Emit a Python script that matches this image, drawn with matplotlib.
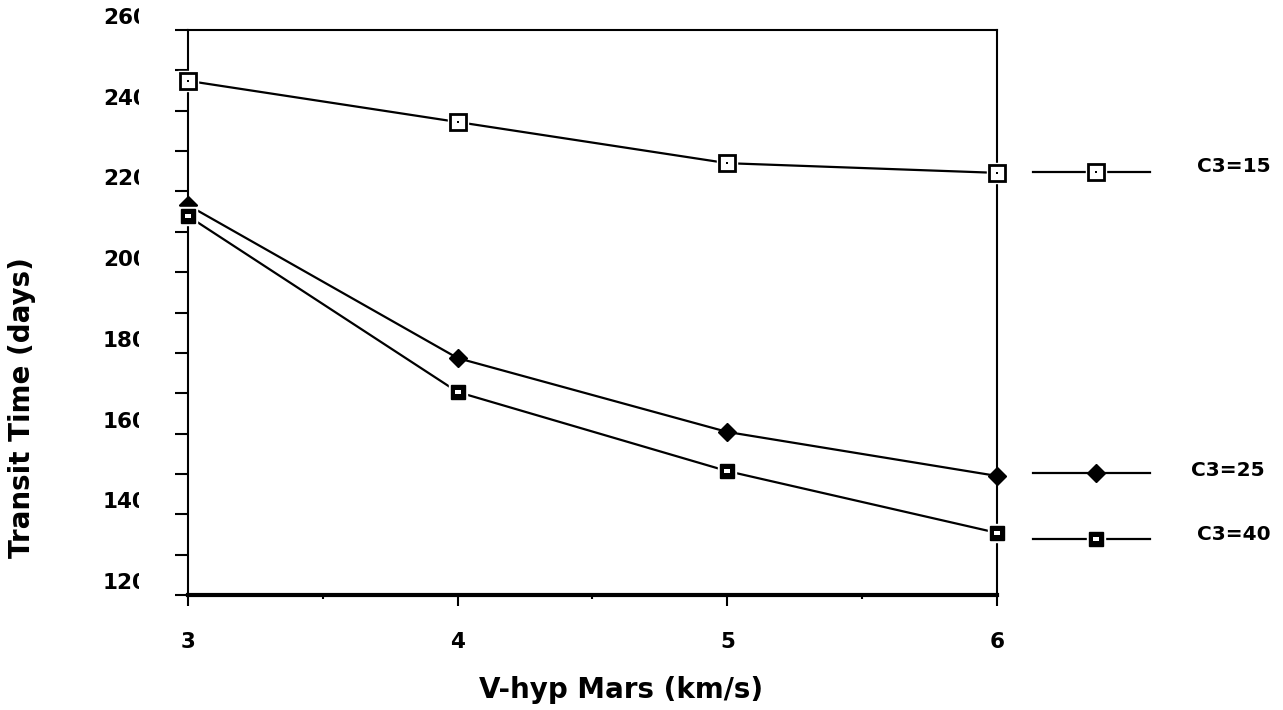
import numpy as np
from matplotlib import pyplot as plt
from matplotlib import transforms

# data
v_hyp = [3, 4, 5, 6]
c3_15 = [247.4, 237.2, 227.0, 224.6]
c3_25 = [216.6, 178.7, 160.4, 149.5]
c3_40 = [213.9, 170.3, 150.7, 135.4]
series_labels = ['C3=15', 'C3=25', 'C3=40']
y_tick_values = [120, 140, 160, 180, 200, 220, 240, 260]
x_tick_values = [3, 4, 5, 6]

FONT = 'DejaVu Sans'
W, H = 1283, 710

fig = plt.figure(figsize=(W / 100, H / 100), dpi=100)
ax = fig.add_axes([188 / W, 115 / H, 809 / W, 565 / H])

ax.set_xlim(3, 6)
ax.set_ylim(120, 260)

for sp in ax.spines.values():
    sp.set_linewidth(1.5)
    sp.set_zorder(3)
ax.spines['bottom'].set_linewidth(3)

# ticks
ax.set_xticks(x_tick_values)
ax.set_xticks([3.5, 4.5, 5.5], minor=True)
ax.set_yticks(np.arange(120, 261, 10))
ax.tick_params(axis='x', which='major', direction='out', length=8, width=1.5,
               pad=19, labelsize=15.5)
ax.tick_params(axis='x', which='minor', direction='out', length=3, width=1.5)
ax.tick_params(axis='y', direction='out', length=9.4, width=1.5, labelleft=False)
for lab in ax.get_xticklabels():
    lab.set_fontfamily(FONT)
    lab.set_fontweight('bold')

# y tick labels, shifted up and cut on the right like the original
ytrans = ax.get_yaxis_transform() + transforms.ScaledTranslation(0, 12 / 100, fig.dpi_scale_trans)
clip = transforms.Bbox.from_extents(0, 0, 139, H)
for v in y_tick_values:
    t = fig.text(-85 / 809, v, str(v), transform=ytrans, ha='left', va='center',
                 fontsize=15.5, fontweight='bold', family=FONT)
    t.set_clip_box(clip)
    t.set_clip_on(True)


def halo(x, y, ms, marker='s', transform=None):
    kw = {} if transform is None else {'transform': transform}
    ax.plot(x, y, ls='none', marker=marker, ms=ms, mfc='white', mec='white',
            zorder=4.2, clip_on=False, **kw)


def open_square(x, y, transform=None):
    kw = {} if transform is None else {'transform': transform}
    halo(x, y, 15, transform=transform)
    ax.plot(x, y, ls='none', marker='s', ms=11, mfc='white', mec='black', mew=2,
            zorder=5, clip_on=False, **kw)
    ax.plot(x, y, ls='none', marker='s', ms=2, mfc='black', mec='black', mew=0,
            zorder=6, clip_on=False, **kw)


inner_rect = [(-1, -0.5), (1, -0.5), (1, 0.5), (-1, 0.5), (-1, -0.5)]


def filled_square(x, y, transform=None):
    kw = {} if transform is None else {'transform': transform}
    halo(x, y, 13.5, transform=transform)
    ax.plot(x, y, ls='none', marker='s', ms=9.5, mfc='black', mec='black', mew=1,
            zorder=5, clip_on=False, **kw)
    ax.plot(x, y, ls='none', marker=inner_rect, ms=5, mfc='white', mec='white', mew=0,
            zorder=6, clip_on=False, **kw)


def diamond(x, y, transform=None):
    kw = {} if transform is None else {'transform': transform}
    ax.plot(x, y, ls='none', marker='D', ms=9.5, mfc='black', mec='black', mew=1,
            zorder=4, clip_on=False, **kw)


# series lines
for ys in (c3_15, c3_25, c3_40):
    ax.plot(v_hyp, ys, color='black', lw=1.6, zorder=2, clip_on=False)

diamond(v_hyp, c3_25)
filled_square(v_hyp, c3_40)
open_square(v_hyp, c3_15)

# legend drawn to the right of the plot box
leg_x0, leg_x1, leg_xm = (1033 - 188) / 809, (1150 - 188) / 809, (1096 - 188) / 809
leg_rows = [(595 - 172) / 565, (595 - 473) / 565, (595 - 539) / 565]
leg_funcs = [open_square, diamond, filled_square]
for yy, fn in zip(leg_rows, leg_funcs):
    ax.plot([leg_x0, leg_x1], [yy, yy], color='black', lw=1.6, transform=ax.transAxes,
            clip_on=False, zorder=2)
    fn([leg_xm], [yy], transform=ax.transAxes)

leg_text_pos = [(1197, 166), (1191, 470), (1197, 534)]
for (px, py), lab in zip(leg_text_pos, series_labels):
    fig.text(px / W, 1 - py / H, lab, ha='left', va='center', fontsize=14.5,
             fontweight='bold', family=FONT)

fig.text(621 / W, 1 - 690 / H, 'V-hyp Mars (km/s)', ha='center', va='center',
         fontsize=20, fontweight='bold', family=FONT)
fig.text(22 / W, 1 - 408 / H, 'Transit Time (days)', ha='center', va='center',
         rotation=90, fontsize=20, fontweight='bold', family=FONT)

fig.savefig('out.png', dpi=100)
